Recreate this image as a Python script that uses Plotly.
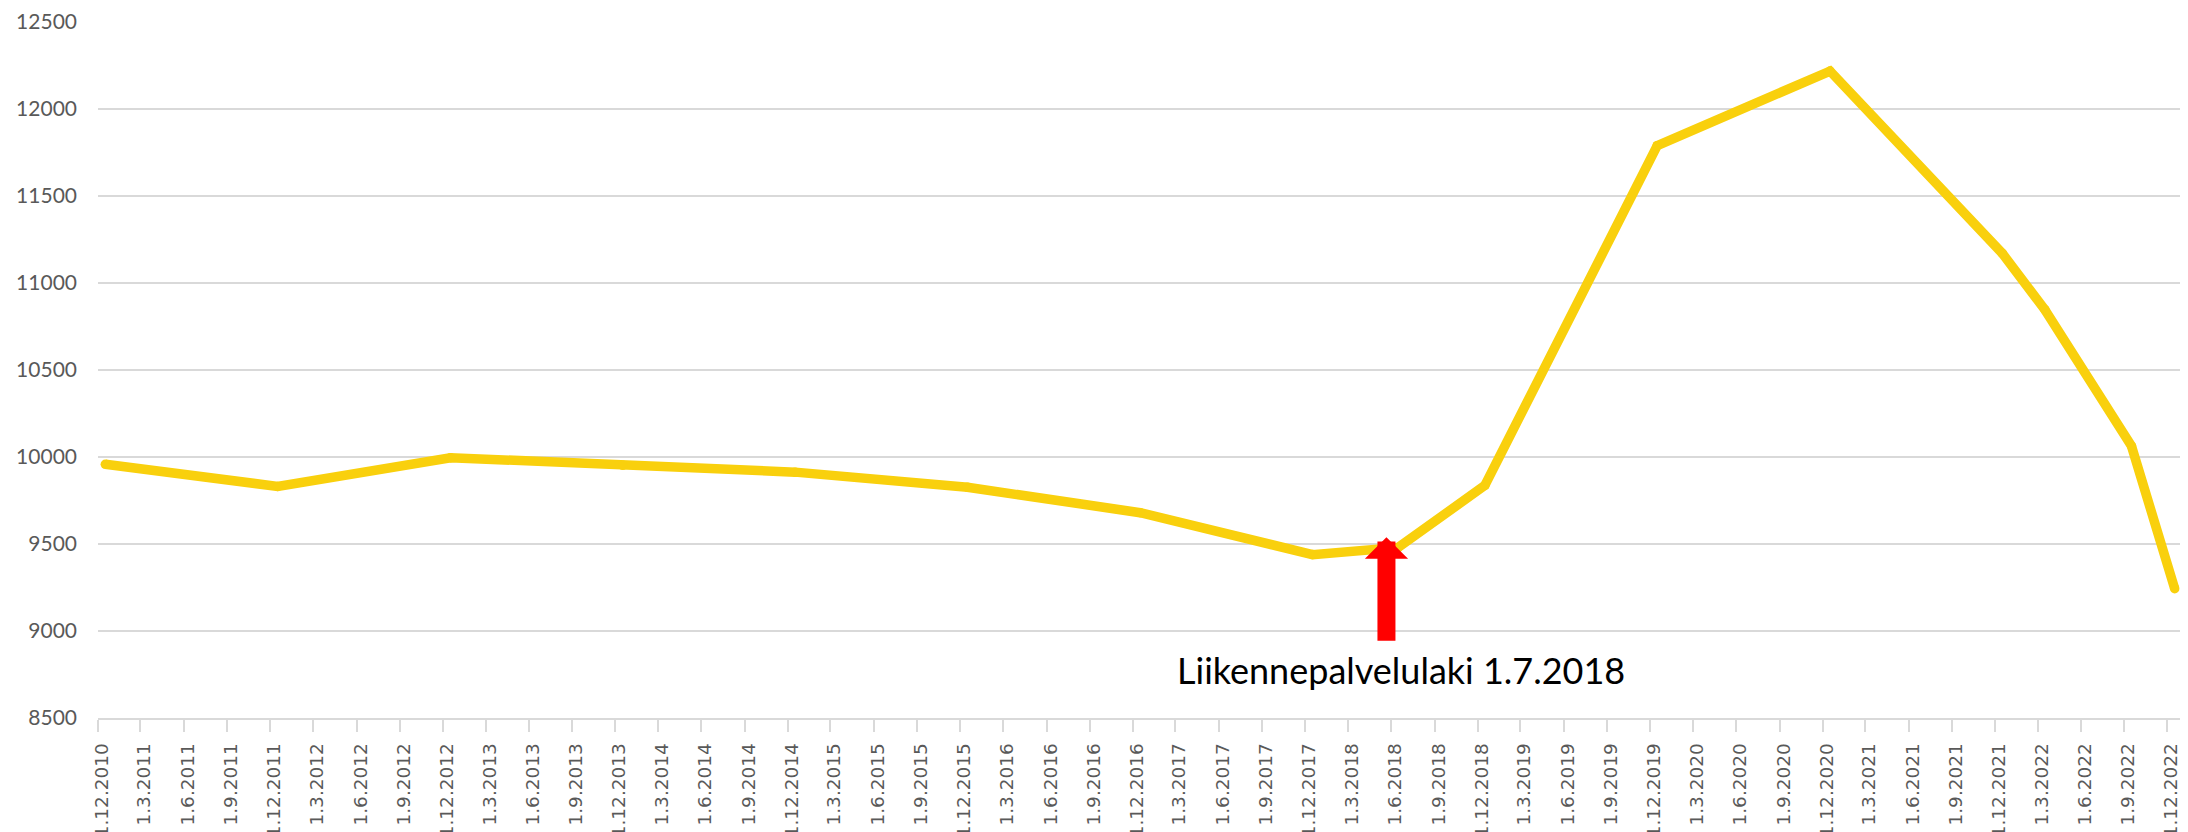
import pandas as pd
import plotly.graph_objects as go

# ---- data ----
dates = ["1.12.2010", "1.12.2011", "1.12.2012", "1.12.2013", "1.12.2014",
         "1.12.2015", "1.12.2016", "1.12.2017", "1.6.2018", "1.12.2018",
         "1.12.2019", "1.12.2020", "1.12.2021", "1.3.2022", "1.9.2022",
         "1.12.2022"]
values = [9958, 9831, 9996, 9952, 9913,
          9826, 9680, 9439, 9480, 9837,
          11789, 12218, 11170, 10847, 10063,
          9243]

tick_labels = [
    "1.12.2010",
    "1.3.2011", "1.6.2011", "1.9.2011", "1.12.2011",
    "1.3.2012", "1.6.2012", "1.9.2012", "1.12.2012",
    "1.3.2013", "1.6.2013", "1.9.2013", "1.12.2013",
    "1.3.2014", "1.6.2014", "1.9.2014", "1.12.2014",
    "1.3.2015", "1.6.2015", "1.9.2015", "1.12.2015",
    "1.3.2016", "1.6.2016", "1.9.2016", "1.12.2016",
    "1.3.2017", "1.6.2017", "1.9.2017", "1.12.2017",
    "1.3.2018", "1.6.2018", "1.9.2018", "1.12.2018",
    "1.3.2019", "1.6.2019", "1.9.2019", "1.12.2019",
    "1.3.2020", "1.6.2020", "1.9.2020", "1.12.2020",
    "1.3.2021", "1.6.2021", "1.9.2021", "1.12.2021",
    "1.3.2022", "1.6.2022", "1.9.2022", "1.12.2022",
]

annotation_text = "Liikennepalvelulaki 1.7.2018"

# ---- build ----
x = pd.to_datetime(dates, format="%d.%m.%Y")
tick_vals = pd.to_datetime(tick_labels, format="%d.%m.%Y")

LINE_COLOR = "#F9D00D"
GRID = "#D9D9D9"
TXT = "#595959"

fig = go.Figure()
fig.add_trace(go.Scatter(
    x=x, y=values,
    mode="lines+markers",
    xperiod="M1", xperiodalignment="middle",
    line=dict(color=LINE_COLOR, width=9.5),
    marker=dict(color=LINE_COLOR, size=9.5, line=dict(width=0)),
    hoverinfo="x+y",
))

# page body has an 8px margin, so the figure is sized to fill the rest
fig.update_layout(
    width=2180, height=824,
    margin=dict(l=90, r=6, t=14, b=114, autoexpand=False),
    paper_bgcolor="white", plot_bgcolor="white",
    showlegend=False,
    xaxis=dict(
        type="date",
        range=["2010-12-01", "2023-01-01"],
        tickmode="array", tickvals=tick_vals, ticktext=tick_labels,
        tickangle=-90,
        ticks="outside", ticklen=12, tickwidth=1.5, tickcolor=GRID,
        showline=True, linecolor=GRID, linewidth=1.5,
        showgrid=False, zeroline=False,
        tickfont=dict(family="DejaVu Sans", size=18.5, color=TXT),
        ticklabelstandoff=4,
        ticklabelshift=4,
        automargin=False,
    ),
    yaxis=dict(
        range=[8500, 12500], dtick=500, tick0=8500,
        tickformat="d",
        showgrid=True, gridcolor=GRID, gridwidth=1.5,
        zeroline=False, showline=False,
        ticks="",
        tickfont=dict(family="Lato", size=21, color=TXT),
        ticklabelstandoff=20,
        automargin=False,
    ),
    annotations=[
        dict(
            x="2018-05-22", y=9539, xref="x", yref="y",
            ax="2018-05-22", ay=8936, axref="x", ayref="y",
            text="", showarrow=True,
            arrowhead=1, arrowwidth=18, arrowsize=0.4,
            arrowcolor="#FF0000",
        ),
        dict(
            x="2018-06-22", y=8775, xref="x", yref="y",
            text=annotation_text, showarrow=False,
            xanchor="center", yanchor="middle",
            font=dict(family="Lato", size=36, color="black"),
        ),
    ],
)

fig.write_html("out.html")
